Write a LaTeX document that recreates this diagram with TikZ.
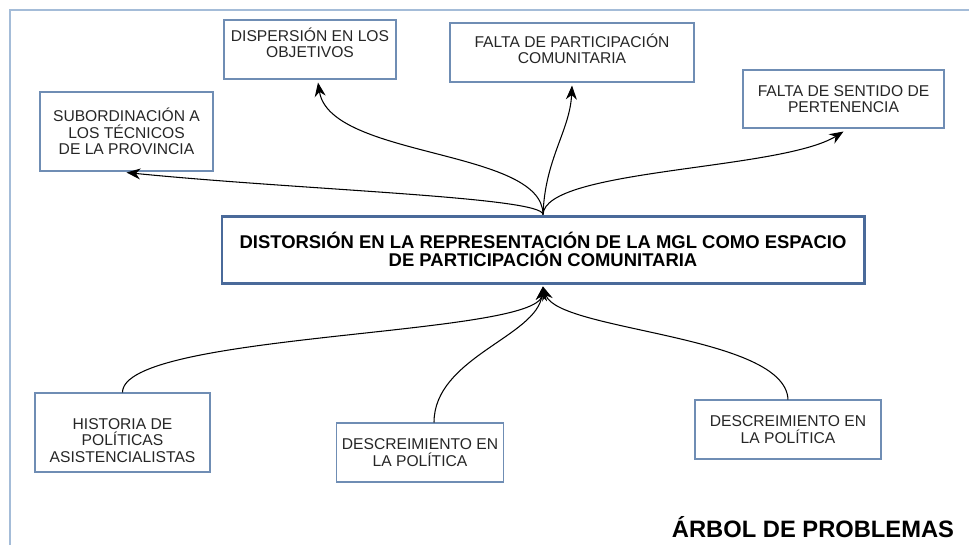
\documentclass[tikz,border=0pt]{standalone}
\usepackage{fontspec}
\setmainfont{Liberation Sans}
\usepackage{xcolor}
\usetikzlibrary{arrows.meta,positioning}
\definecolor{mglBorde}{HTML}{6F8DB4}
\definecolor{mglCentro}{HTML}{4A6A9A}
\definecolor{mglMarco}{HTML}{A4BCD8}
\definecolor{mglTexto}{HTML}{262626}

\begin{document}
\begin{tikzpicture}[>={Stealth[length=2.8mm,width=2.2mm]},
  caja/.style={draw=mglBorde, line width=0.6pt, align=center, text=mglTexto,
    font=\fontsize{8.9}{9.4}\selectfont},
  central/.style={draw=mglCentro, line width=1.7pt, align=center,
    font=\fontsize{10.5}{9.8}\selectfont\bfseries},
  flecha/.style={->, line width=0.6pt}]
\useasboundingbox (0,0) rectangle (19.38,-10.9);
\draw[mglMarco, line width=0.9pt] (0.2,-10.9) -- (0.2,-0.2) -- (19.38,-0.2);
\node[central, minimum width=12.84cm, minimum height=1.34cm] (cen) at (10.86,-4.99)
  {DISTORSIÓN EN LA REPRESENTACIÓN DE LA MGL COMO ESPACIO\\DE PARTICIPACIÓN COMUNITARIA};
\node[caja, minimum width=3.46cm, minimum height=1.58cm] (sub) at (2.53,-2.63)
  {SUBORDINACIÓN A\\LOS TÉCNICOS\\DE LA PROVINCIA};
\node[caja, minimum width=3.44cm, minimum height=1.18cm, text depth=0.27cm] (dis) at (6.2,-0.99)
  {DISPERSIÓN EN LOS\\OBJETIVOS};
\node[caja, minimum width=4.88cm, minimum height=1.18cm, text depth=0.15cm] (par) at (11.44,-1.05)
  {FALTA DE PARTICIPACIÓN\\COMUNITARIA};
\node[caja, minimum width=4.02cm, minimum height=1.16cm] (sen) at (16.87,-1.98)
  {FALTA DE SENTIDO DE\\PERTENENCIA};
\node[caja, minimum width=3.5cm, minimum height=1.58cm, text height=1.2cm] (his) at (2.45,-8.65)
  {HISTORIA DE\\POLÍTICAS\\ASISTENCIALISTAS};
\node[caja, minimum width=3.2cm, minimum height=1.18cm] (dm) at (8.4,-9.05)
  {DESCREIMIENTO EN\\LA POLÍTICA};
\node[caja, minimum width=3.72cm, minimum height=1.18cm] (dr) at (15.76,-8.59)
  {DESCREIMIENTO EN\\LA POLÍTICA};
\node[font=\fontsize{13.5}{15}\selectfont\bfseries] (tit) at (16.26,-10.54) {ÁRBOL DE PROBLEMAS};
\draw[flecha] (cen.north) .. controls +(0,0.35) and +(3.5,-0.35) .. ([yshift=-0.02cm]sub.south);
\draw[flecha] (cen.north) .. controls +(0,1.32) and +(0.24,-1.52) .. ([xshift=0.16cm,yshift=-0.06cm]dis.south);
\draw[flecha] (cen.north) .. controls +(0.04,1.12) and +(-0.04,-0.9) .. ([yshift=-0.06cm]par.south);
\draw[flecha] (cen.north) .. controls +(0.04,0.92) and +(-1.26,-0.78) .. ([yshift=-0.06cm]sen.south);
\draw[flecha] (his.north) .. controls +(0,1.2) and +(-0.12,-1.0) .. ([yshift=-0.04cm]cen.south);
\draw[flecha] ([xshift=0.28cm]dm.north) .. controls +(0,1.3) and +(-0.12,-1.0) .. ([yshift=-0.04cm]cen.south);
\draw[flecha] (dr.north) .. controls +(-0.06,1.3) and +(0.3,-0.9) .. ([yshift=-0.04cm]cen.south);
\end{tikzpicture}
\end{document}
